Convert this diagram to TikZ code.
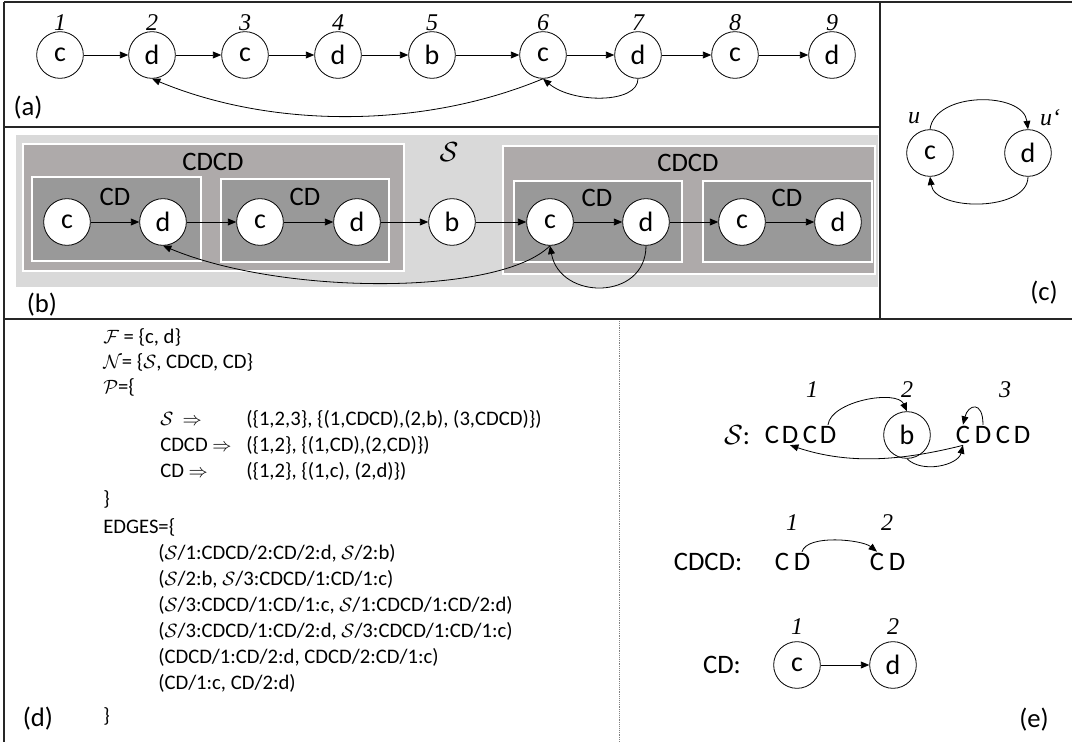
\documentclass[tikz,border=0pt]{standalone}
\usepackage{amsmath,amssymb}
\usepackage{fontspec}
\setmainfont{Carlito}
\newfontfamily\numfont{Liberation Serif}
\usepackage{tikz}
\usetikzlibrary{arrows.meta}
\definecolor{boxS}{RGB}{217,217,217}
\definecolor{boxCDCD}{RGB}{174,170,170}
\definecolor{boxCD}{RGB}{153,153,153}
\tikzset{
  vtx/.style={circle,draw,fill=white,semithick,minimum size=35pt,inner sep=0pt,font=\fontsize{21}{24}\selectfont},
  num/.style={inner sep=0pt,font=\fontsize{18}{20}\selectfont\numfont\itshape},
  lbl/.style={inner sep=0pt,font=\fontsize{20}{24}\selectfont},
  ltr/.style={inner sep=1pt,font=\fontsize{20}{24}\selectfont},
  txt/.style={anchor=base west,inner sep=0pt,font=\fontsize{15.5}{18}\selectfont},
  arr/.style={-{Triangle[length=2.2mm,width=1.8mm]},semithick},
  frame/.style={line width=1.1pt,draw=black!85},
  grp/.style={draw=white,line width=1pt},
}

\begin{document}
\begin{tikzpicture}[x=0.75pt,y=-0.75pt]
\useasboundingbox (0,0) rectangle (1072,742);
% panel frames
\draw[frame] (4,2) -- (1072,2);
\draw[frame] (4,2) -- (4,742);
\draw[frame] (4,127) -- (880,127);
\draw[frame] (880,2) -- (880,319);
\draw[frame] (4,319) -- (1072,319);
\draw[densely dotted,gray] (619,321) -- (619,742);

% (a) the flat sequence
\node[vtx] (a1) at (60,55) {c};   \node[num] at (60,23) {1};
\node[vtx] (a2) at (152,55) {d};  \node[num] at (152,23) {2};
\node[vtx] (a3) at (245,55) {c};  \node[num] at (245,23) {3};
\node[vtx] (a4) at (338,55) {d};  \node[num] at (338,23) {4};
\node[vtx] (a5) at (432,55) {b};  \node[num] at (432,23) {5};
\node[vtx] (a6) at (543,55) {c};  \node[num] at (543,23) {6};
\node[vtx] (a7) at (638,55) {d};  \node[num] at (638,23) {7};
\node[vtx] (a8) at (735,55) {c};  \node[num] at (735,23) {8};
\node[vtx] (a9) at (832,55) {d};  \node[num] at (832,23) {9};
\draw[arr] (a1) -- (a2); \draw[arr] (a2) -- (a3); \draw[arr] (a3) -- (a4);
\draw[arr] (a4) -- (a5); \draw[arr] (a5) -- (a6); \draw[arr] (a6) -- (a7);
\draw[arr] (a7) -- (a8); \draw[arr] (a8) -- (a9);
\draw[arr] (a6.south) .. controls +(-120,50) and +(120,50) .. (a2.south);
\draw[arr] (a7.south) .. controls +(0,25) and +(30,25) .. (a6.south);
\node[lbl] (la) at (28,108) {(a)};

% (b) nested groups
\fill[boxS] (16,135) rectangle (878,287);
\filldraw[grp,fill=boxCDCD] (23,144) rectangle (404,271);
\filldraw[grp,fill=boxCD] (32,177) rectangle (201,261);
\filldraw[grp,fill=boxCD] (221,179) rectangle (389,262);
\filldraw[grp,fill=boxCDCD] (503,146) rectangle (875,274);
\filldraw[grp,fill=boxCD] (514,181) rectangle (682,262);
\filldraw[grp,fill=boxCD] (703,181) rectangle (872,262);
\node[lbl] (gS) at (449,152) {$\mathcal{S}$};
\node[lbl] (gL) at (213,162) {CDCD};
\node[lbl] (gR) at (688,163) {CDCD};
\node[lbl] (g1) at (115,197) {CD};
\node[lbl] (g2) at (305,197) {CD};
\node[lbl] (g3) at (597,198) {CD};
\node[lbl] (g4) at (787,198) {CD};
\node[vtx] (b1) at (67,222) {c};
\node[vtx] (b2) at (163,222) {d};
\node[vtx] (b3) at (260,222) {c};
\node[vtx] (b4) at (357,222) {d};
\node[vtx] (b5) at (452,222) {b};
\node[vtx] (b6) at (550,222) {c};
\node[vtx] (b7) at (646,222) {d};
\node[vtx] (b8) at (742,222) {c};
\node[vtx] (b9) at (838,222) {d};
\draw[arr] (b1) -- (b2); \draw[arr] (b2) -- (b3); \draw[arr] (b3) -- (b4);
\draw[arr] (b4) -- (b5); \draw[arr] (b5) -- (b6); \draw[arr] (b6) -- (b7);
\draw[arr] (b7) -- (b8); \draw[arr] (b8) -- (b9);
\draw[arr] (b6.south) .. controls +(-50,50) and +(120,50) .. (b2.south);
\draw[arr] (b7.south) .. controls +(0,55) and +(10,55) .. (b6.south);
\node[lbl] (lb) at (42,305) {(b)};

% (c) two-node cycle
\node[vtx] (cu) at (930,153) {c};
\node[vtx] (cv) at (1028,153) {d};
\node[num] at (914,118) {u};
\node[num] at (1050,118) {u‘};
\draw[arr] (cu.north) .. controls +(5,-38) and +(-5,-38) .. (cv.north);
\draw[arr] (cv.south) .. controls +(0,35) and +(5,35) .. (cu.south);
\node[lbl] (lc) at (1044,293) {(c)};

% (d) the grammar
\node[txt] (dF) at (103,343) {$\mathcal{F}$ = \{c, d\}};
\node[txt] (dN) at (103,368) {$\mathcal{N}$= \{$\mathcal{S}$, CDCD, CD\}};
\node[txt] (dP) at (103,393) {$\mathcal{P}$=\{};
\node[txt] (p1) at (160,425) {$\mathcal{S}$\ \ $\Rightarrow$};
\node[txt] (q1) at (246,425) {(\{1,2,3\}, \{(1,CDCD),(2,b), (3,CDCD)\})};
\node[txt] (p2) at (160,451) {CDCD $\Rightarrow$};
\node[txt] (q2) at (246,451) {(\{1,2\}, \{(1,CD),(2,CD)\})};
\node[txt] (p3) at (160,477) {CD $\Rightarrow$};
\node[txt] (q3) at (246,477) {(\{1,2\}, \{(1,c), (2,d)\})};
\node[txt] (dPe) at (103,505) {\}};
\node[txt] (dE) at (103,533) {EDGES=\{};
\node[txt] (e1) at (158,559) {($\mathcal{S}$/1:CDCD/2:CD/2:d, $\mathcal{S}$/2:b)};
\node[txt] (e2) at (158,585) {($\mathcal{S}$/2:b, $\mathcal{S}$/3:CDCD/1:CD/1:c)};
\node[txt] (e3) at (158,611) {($\mathcal{S}$/3:CDCD/1:CD/1:c, $\mathcal{S}$/1:CDCD/1:CD/2:d)};
\node[txt] (e4) at (158,637) {($\mathcal{S}$/3:CDCD/1:CD/2:d, $\mathcal{S}$/3:CDCD/1:CD/1:c)};
\node[txt] (e5) at (158,663) {(CDCD/1:CD/2:d, CDCD/2:CD/1:c)};
\node[txt] (e6) at (158,689) {(CD/1:c, CD/2:d)};
\node[txt] (dEe) at (103,722) {\}};
\node[lbl] (ld) at (38,719) {(d)};

% (e) productions drawn as graphs
\node[lbl] (sS) at (737,435) {$\mathcal{S}$:};
\node[ltr] (s1c1) at (772,435) {C};
\node[ltr] (s1d1) at (790,435) {D};
\node[ltr] (s1c2) at (810,435) {C};
\node[ltr] (s1d2) at (828,435) {D};
\node[vtx] (sb) at (907,435) {b};
\node[ltr] (s2c1) at (963,435) {C};
\node[ltr] (s2d1) at (983,435) {D};
\node[ltr] (s2c2) at (1003,435) {C};
\node[ltr] (s2d2) at (1022,435) {D};
\node[num] at (812,390) {1};
\node[num] at (907,390) {2};
\node[num] at (1005,390) {3};
\draw[arr] (s1d2.north) .. controls +(3,-24) and +(-10,-22) .. (sb.north);
\draw[arr] (sb.south) .. controls +(15,15) and +(-5,20) .. (s2c1.south);
\draw[arr] (s2c1.south) .. controls +(-60,15) and +(60,20) .. (s1d1.south);
\draw[arr] (s2d1.north) .. controls +(0,-25) and +(5,-20) .. (s2c1.north);

\node[lbl] (rS) at (708,562) {CDCD:};
\node[ltr] (r1c) at (782,562) {C};
\node[ltr] (r1d) at (802,562) {D};
\node[ltr] (r2c) at (877,562) {C};
\node[ltr] (r2d) at (897,562) {D};
\node[num] at (792,523) {1};
\node[num] at (887,523) {2};
\draw[arr] (r1d.north) .. controls +(5,-18) and +(-15,-12) .. (r2c.north);

\node[lbl] (tS) at (722,665) {CD:};
\node[vtx] (t1) at (797,665) {c};
\node[vtx] (t2) at (893,665) {d};
\node[num] at (797,627) {1};
\node[num] at (893,627) {2};
\draw[arr] (t1) -- (t2);
\node[lbl] (le) at (1034,720) {(e)};
\end{tikzpicture}
\end{document}
